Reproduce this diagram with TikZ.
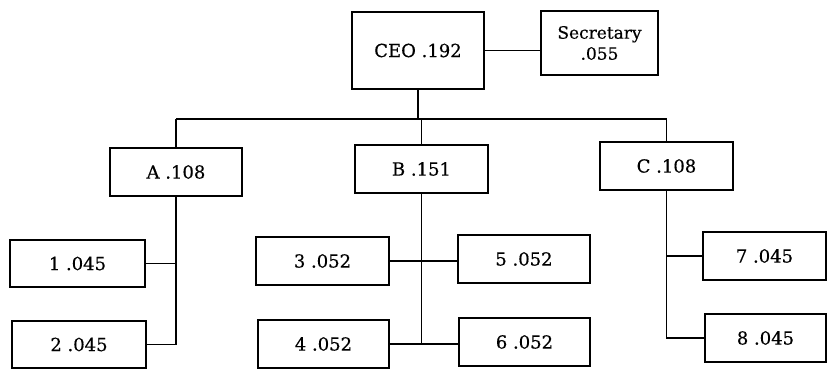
\documentclass[tikz,border=0pt]{standalone}
\usepackage{fontspec}
\setmainfont{DejaVu Serif}[FakeBold=0.4]
\begin{document}
\begin{tikzpicture}[x=1pt,y=-1pt,
  unit/.style={draw=black,line width=1.7pt,inner sep=0pt,align=center,
    font=\fontsize{18}{21}\selectfont},
  link/.style={draw=black,line width=1.7pt}]
\useasboundingbox (0,0) rectangle (828,369);
% top level
\node[unit,minimum width=132pt,minimum height=77pt] (ceo) at (418,50.5) {CEO .192};
\node[unit,minimum width=117pt,minimum height=64pt,font=\fontsize{17}{21}\selectfont] (sec) at (599.5,43) {Secretary\\.055};
% departments
\node[unit,minimum width=132pt,minimum height=48pt] (A) at (176,172) {A .108};
\node[unit,minimum width=133pt,minimum height=48pt] (B) at (421.5,169) {B .151};
\node[unit,minimum width=133pt,minimum height=48pt] (C) at (666.5,166) {C .108};
% sections
\node[unit,minimum width=135pt,minimum height=47pt] (u1) at (77.5,263.5) {1 .045};
\node[unit,minimum width=134pt,minimum height=47pt] (u2) at (79,344.5) {2 .045};
\node[unit,minimum width=133pt,minimum height=48pt] (u3) at (322.5,261) {3 .052};
\node[unit,minimum width=131pt,minimum height=48pt] (u4) at (323.5,344) {4 .052};
\node[unit,minimum width=132pt,minimum height=48pt] (u5) at (524,259) {5 .052};
\node[unit,minimum width=131pt,minimum height=48pt] (u6) at (524.5,342) {6 .052};
\node[unit,minimum width=123pt,minimum height=48pt] (u7) at (764.5,256) {7 .045};
\node[unit,minimum width=121pt,minimum height=48pt] (u8) at (765.5,338) {8 .045};
% connectors
\coordinate (bus) at (0,119);
\draw[link] (ceo.east) -- (sec.west |- ceo.east);
\draw[link] (ceo.south) -- (ceo.south |- bus);
\draw[link] (A.north |- bus) -- (C.north |- bus);
\draw[link] (A.north |- bus) -- (A.north);
\draw[link] (B.north |- bus) -- (B.north);
\draw[link] (C.north |- bus) -- (C.north);
\draw[link] (A.south) -- (A.south |- u2.east) -- (u2.east);
\draw[link] (u1.east) -- (A.south |- u1.east);
\draw[link] (B.south) -- (B.south |- u4.east);
\draw[link] (u3.east) -- (u5.west |- u3.east);
\draw[link] (u4.east) -- (u6.west |- u4.east);
\draw[link] (C.south) -- (C.south |- u8.west) -- (u8.west);
\draw[link] (u7.west) -- (C.south |- u7.west);
\end{tikzpicture}
\end{document}
